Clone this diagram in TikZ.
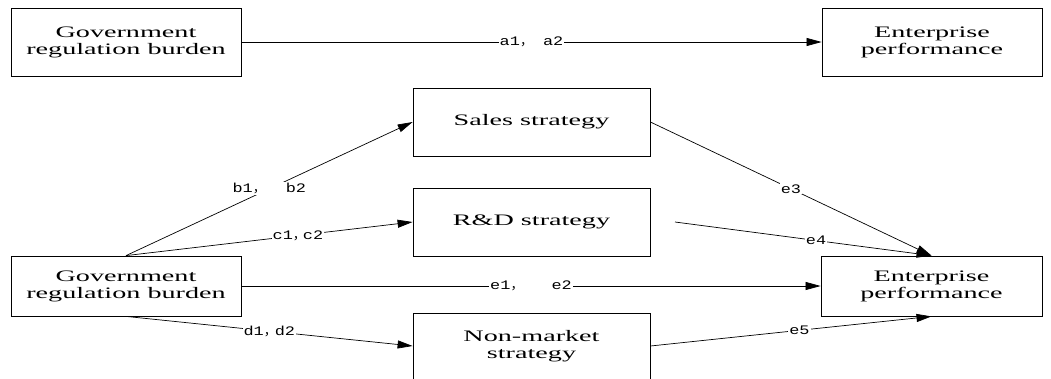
\documentclass[tikz,border=0pt]{standalone}
\usepackage{fontspec}
\setmainfont{Liberation Serif}
\newfontfamily\boxfont[FakeStretch=1.76]{Liberation Serif}
\newfontfamily\labfont[FakeStretch=1.3]{Liberation Mono}
\newfontfamily\cjkfont{Noto Sans CJK SC}
\usetikzlibrary{arrows.meta}
\newcommand{\fwc}{{\cjkfont ，}}
\begin{document}
\begin{tikzpicture}[x=1pt,y=-1pt,
  box/.style={draw, line width=0.8pt, rectangle, align=center, inner sep=0pt,
    font=\boxfont\fontsize{16}{17}\selectfont},
  conn/.style={line width=0.7pt, -{Triangle[length=15pt,width=8pt]}},
  lab/.style={fill=white, inner sep=1pt, font=\labfont\fontsize{13}{13}\selectfont}]
\useasboundingbox (0,0) rectangle (1051,378);

\node[box, minimum width=230pt, minimum height=68pt] (gov1) at (126,42) {Government\\regulation burden};
\node[box, minimum width=220pt, minimum height=68pt] (ent1) at (932,42) {Enterprise\\performance};
\node[box, minimum width=237pt, minimum height=68pt] (sales) at (531.5,122) {Sales strategy};
\node[box, minimum width=237pt, minimum height=68pt] (rd) at (531.5,222) {R\&D strategy};
\node[box, minimum width=230pt, minimum height=60pt] (gov2) at (126,286) {Government\\regulation burden};
\node[box, minimum width=221pt, minimum height=60pt] (ent2) at (931.5,286) {Enterprise\\performance};
\node[box, minimum width=237pt, minimum height=66pt] (nm) at (531.5,346) {Non-market\\strategy};
\coordinate (e4s) at (675,222);

\draw[conn] (gov1.east) -- node[lab]{a1\fwc\hspace{10pt}a2} (ent1.west);
\draw[conn] (gov2.north) -- node[lab,pos=0.5]{b1\fwc\hspace{20pt}b2} (sales.west);
\draw[conn] (gov2.north) -- node[lab,pos=0.6]{c1\fwc\hspace{-3pt}c2} (rd.west);
\draw[conn] (gov2.east) -- node[lab]{e1\fwc\hspace{28pt}e2} (ent2.west);
\draw[conn] (gov2.south) -- node[lab,pos=0.5]{d1\fwc\hspace{-2pt}d2} (nm.west);
\draw[conn] (sales.east) -- node[lab,pos=0.5]{e3} (ent2.north);
\draw[conn] (e4s) -- node[lab,pos=0.55]{e4} (ent2.north);
\draw[conn] (nm.east) -- node[lab,pos=0.53]{e5} (ent2.south);
\end{tikzpicture}
\end{document}
